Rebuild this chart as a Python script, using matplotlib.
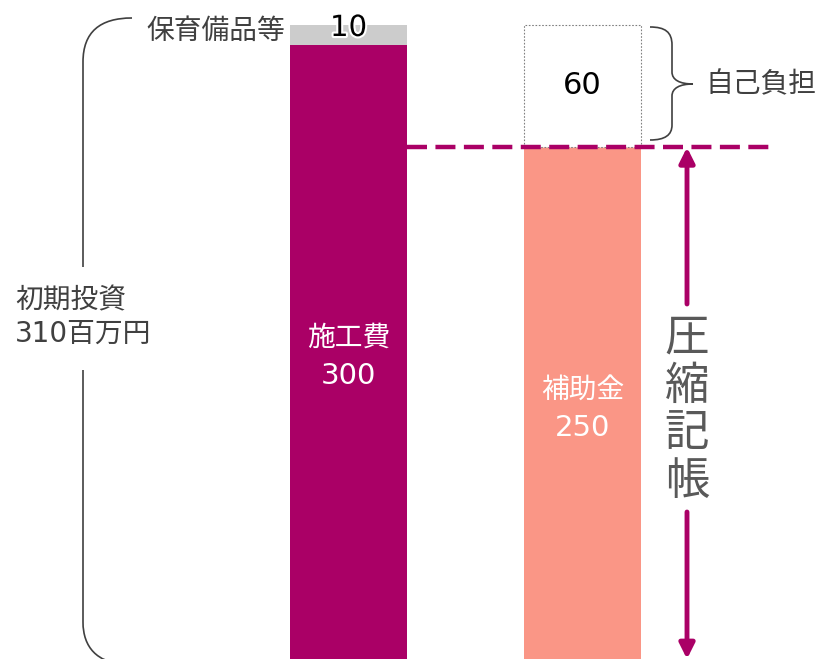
import matplotlib
matplotlib.use("Agg")
import matplotlib.pyplot as plt
from matplotlib.path import Path
from matplotlib.patches import PathPatch
import matplotlib.patheffects as pe

plt.rcParams['font.family'] = ['Noto Sans CJK JP', 'DejaVu Sans']
MIX = ['DejaVu Sans', 'Noto Sans CJK JP']

# ---- data ----
categories = ["施工費", "補助金"]
base_values = [300, 250]
top_labels = ["保育備品等", "自己負担"]
top_values = [10, 60]
total_label = "初期投資\n310百万円"
arrow_label = "圧縮記帳"

MAGENTA = "#AA0066"
SALMON = "#FA9686"
GRAY = "#CCCCCC"
TXT = "#404040"

W, H = 824, 659
fig = plt.figure(figsize=(W / 100, H / 100), dpi=100)
ax = fig.add_axes([0, 0, 1, 1])
SC = 300 / 614.0  # data units per pixel
ax.set_xlim(0, W)
ax.set_ylim(0, H * SC)
ax.axis("off")


def Y(py):
    return (H - py) * SC


xs = [348.5, 582.5]
bw = 117

# base bars
ax.bar(xs, base_values, width=bw, color=[MAGENTA, SALMON], zorder=2)
# top of bar 1: gray
ax.bar(xs[0], top_values[0], bottom=base_values[0], width=bw, color=GRAY, zorder=2)
# top of bar 2: dotted white box
ax.bar(xs[1], top_values[1], bottom=base_values[1], width=bw, color="white",
       edgecolor="#808080", linestyle=(0, (1.5, 1.5)), linewidth=0.8, zorder=2)

# labels inside bars
for x, cat, v, yl in [(xs[0], categories[0], base_values[0], 338),
                      (xs[1], categories[1], base_values[1], 390)]:
    ax.text(x, Y(yl), cat, color="white", fontsize=20, ha="center", va="center", zorder=4)
    ax.text(x, Y(yl + 38), str(v), color="white", fontsize=21, family=MIX,
            ha="center", va="center", zorder=4)

ax.text(xs[0], Y(28), str(top_values[0]), color="black",
        fontsize=21, family=MIX, ha="center", va="center", zorder=4,
        path_effects=[pe.withStroke(linewidth=3, foreground="white")])
ax.text(xs[1], base_values[1] + top_values[1] / 2, str(top_values[1]), color="black",
        fontsize=22, family=MIX, ha="center", va="center", zorder=4)

ax.text(285, Y(31), top_labels[0], color=TXT, fontsize=20, ha="right", va="center")
ax.text(705, Y(84), top_labels[1], color=TXT, fontsize=20, ha="left", va="center")

# dashed line at subsidy level
ax.plot([407, 770], [base_values[1], base_values[1]], color=MAGENTA, lw=3.2,
        dashes=(4.5, 1.9), zorder=3)

# arrows
AX = 687
ax.annotate("", xy=(AX, base_values[1]), xytext=(AX, Y(304)),
            arrowprops=dict(arrowstyle="-|>,head_width=0.45,head_length=0.9",
                            color=MAGENTA, lw=3.5, shrinkA=0, shrinkB=0), zorder=4)
ax.annotate("", xy=(AX, 0), xytext=(AX, Y(512)),
            arrowprops=dict(arrowstyle="-|>,head_width=0.45,head_length=0.9",
                            color=MAGENTA, lw=3.5, shrinkA=0, shrinkB=0), zorder=4)
for i, ch in enumerate(arrow_label):
    ax.text(AX, Y(338 + i * 47.5), ch, color="#595959", fontsize=32,
            ha="center", va="center")

# left brace
def P(px, py):
    return (px, Y(py))

verts = [P(132, 18), P(100, 18), P(83, 32), P(83, 62), P(83, 267)]
codes = [Path.MOVETO, Path.CURVE4, Path.CURVE4, Path.CURVE4, Path.LINETO]
ax.add_patch(PathPatch(Path(verts, codes), fill=False, edgecolor=TXT, lw=1.2))
verts = [P(83, 370), P(83, 622), P(83, 648), P(98, 662), P(122, 664)]
codes = [Path.MOVETO, Path.LINETO, Path.CURVE4, Path.CURVE4, Path.CURVE4]
ax.add_patch(PathPatch(Path(verts, codes), fill=False, edgecolor=TXT, lw=1.2))
ax.text(15, Y(317), total_label, color=TXT, fontsize=20, family=MIX,
        ha="left", va="center", linespacing=1.25)

# right brace
verts = [P(650, 27), P(665, 27), P(672, 32), P(672, 45), P(672, 72),
         P(672, 80), P(680, 84), P(693, 84),
         P(680, 84), P(672, 88), P(672, 96),
         P(672, 125), P(672, 135), P(665, 140), P(650, 140)]
codes = [Path.MOVETO, Path.CURVE4, Path.CURVE4, Path.CURVE4, Path.LINETO,
         Path.CURVE4, Path.CURVE4, Path.CURVE4,
         Path.CURVE4, Path.CURVE4, Path.CURVE4,
         Path.LINETO, Path.CURVE4, Path.CURVE4, Path.CURVE4]
ax.add_patch(PathPatch(Path(verts, codes), fill=False, edgecolor=TXT, lw=1.2))

fig.savefig("out.png", dpi=100)
